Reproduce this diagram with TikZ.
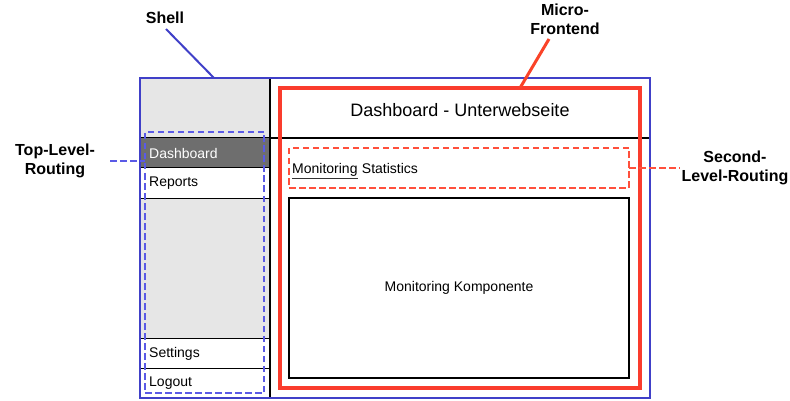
\documentclass[tikz,border=0pt]{standalone}
\usepackage{fontspec}
\setmainfont{Liberation Sans}
\definecolor{shellblue}{RGB}{64,64,200}
\definecolor{dashblue}{RGB}{90,90,230}
\definecolor{mfred}{RGB}{250,60,45}
\definecolor{dashred}{RGB}{255,80,60}
\definecolor{lightfill}{RGB}{230,230,230}
\definecolor{darkfill}{RGB}{110,110,110}
\begin{document}
\begin{tikzpicture}[x=1pt,y=-1pt,
  box/.style={rectangle, inner sep=0pt, outer sep=0pt},
  item/.style={box, draw=black, line width=1pt, minimum width=130pt, minimum height=30pt},
  itemtxt/.style={anchor=west, inner sep=0pt, font=\fontsize{14}{16}\selectfont},
  bodytxt/.style={inner sep=0pt, font=\fontsize{14}{16}\selectfont},
  lbl/.style={align=center, inner sep=0pt, font=\fontsize{16}{19}\selectfont\bfseries},
  bluedash/.style={draw=dashblue, line width=2pt, dash pattern=on 6.5pt off 3.5pt},
  reddash/.style={draw=dashred, line width=2pt, dash pattern=on 6.5pt off 3.5pt}]
\useasboundingbox (0,0) rectangle (790,401);
% sidebar
\node[box, fill=lightfill, minimum width=130pt, minimum height=60pt] (sbtop) at (205,108) {};
\node[item, fill=darkfill] (dash) at (205,153) {};
\node[item, fill=white] (reports) at (205,183) {};
\node[item, fill=lightfill, minimum height=140pt] (sbmid) at (205,268) {};
\node[item, fill=white] (settings) at (205,353) {};
\node[item, fill=white] (logout) at (205,383) {};
\node[itemtxt, text=white] (tdash) at (149,153.5) {Dashboard};
\node[itemtxt] (treports) at (149,183.5) {Reports};
\node[itemtxt] (tsettings) at (149,353.5) {Settings};
\node[itemtxt] (tlogout) at (149,383.5) {Logout};
% header separator and column line
\coordinate (colt) at (270,78);
\coordinate (colb) at (270,398);
\coordinate (hl) at (270,138);
\coordinate (hr) at (650,138);
\draw[line width=1.2pt] (colt) -- (colb);
\draw[line width=1.2pt] (hl) -- (hr);
% shell
\node[box, draw=shellblue, line width=2.5pt, minimum width=510pt, minimum height=320pt] (shell) at (395,238) {};
% micro frontend
\node[box, draw=mfred, line width=3.3pt, minimum width=360pt, minimum height=300pt] (mf) at (460,238) {};
\node[inner sep=0pt, font=\fontsize{18}{21}\selectfont] (title) at (460,110) {Dashboard - Unterwebseite};
% second level routing
\node[box, reddash, minimum width=340pt, minimum height=40pt] (slr) at (459,168) {};
\node[anchor=base west, inner sep=0pt, font=\fontsize{14}{16}\selectfont] (mon) at (292,173) {Monitoring};
\node[anchor=base west, inner sep=0pt, font=\fontsize{14}{16}\selectfont] (stat) at ([xshift=4pt]mon.base east) {Statistics};
\draw[line width=0.9pt, black!80] ([yshift=-2pt]mon.south west) -- ([yshift=-2pt]mon.south east);
% component
\node[box, draw=black, line width=1.2pt, minimum width=340pt, minimum height=180pt] (comp) at (459,288) {};
\node[bodytxt] (comptxt) at (459,288) {Monitoring Komponente};
% top level routing
\node[box, bluedash, minimum width=119pt, minimum height=261pt] (tlr) at (204.5,262.5) {};
% labels
\node[lbl] (lshell) at (165,18) {Shell};
\node[lbl] (lmf) at (565,19) {Micro-\\Frontend};
\node[lbl] (ltlr) at (55,161) {Top-Level-\\Routing};
\node[lbl] (lslr) at (735,168) {Second-\\Level-Routing};
\coordinate (shellpin) at (166,29);
\coordinate (shelltop) at (214,78);
\draw[draw=shellblue, line width=2pt] (shellpin) -- (shelltop);
\coordinate (mfpin) at (549,39);
\coordinate (mftop) at (520,88);
\draw[draw=mfred!90!orange, line width=3pt] (mfpin) -- (mftop);
\coordinate (tlrpin) at (110,161);
\draw[bluedash] (tlrpin) -- (tlr.west |- tlrpin);
\coordinate (slrpin) at (680,168);
\draw[reddash] (slr.east) -- (slrpin);
\end{tikzpicture}
\end{document}
